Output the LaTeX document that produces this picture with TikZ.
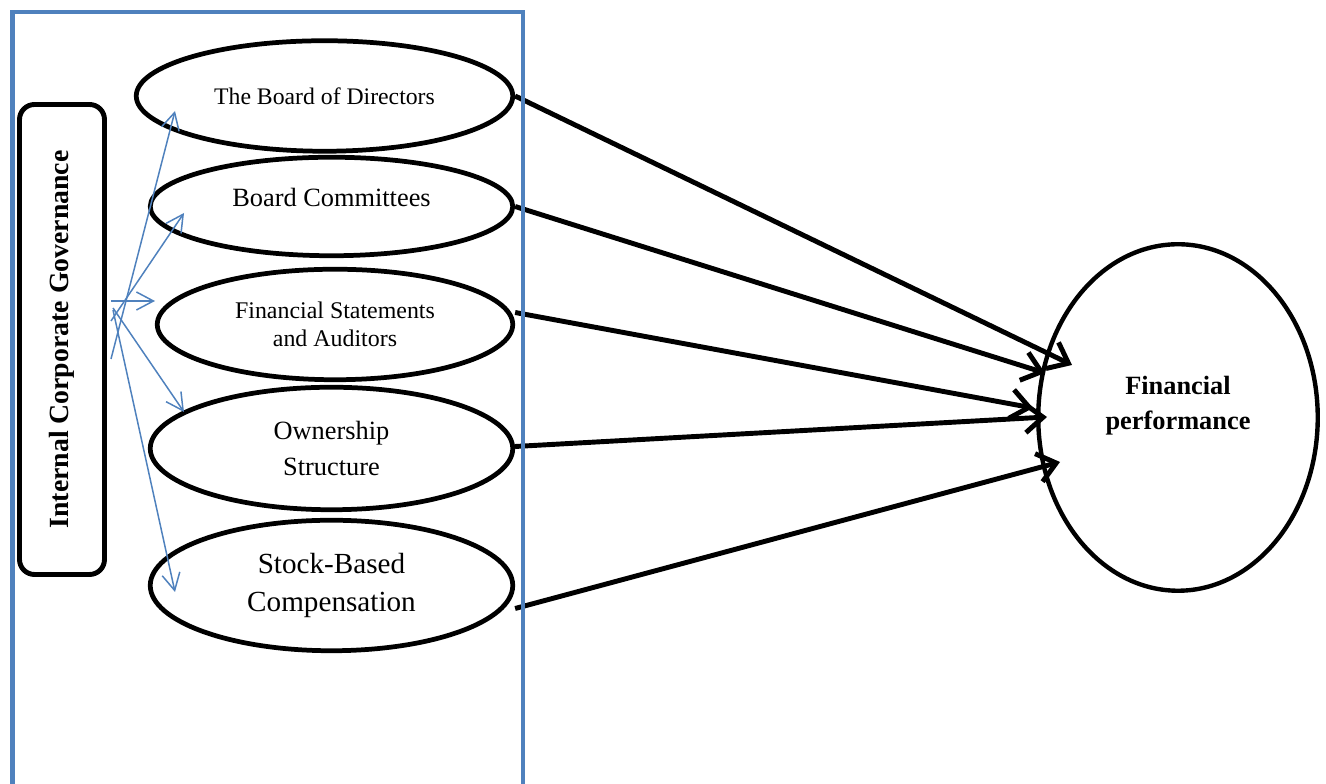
\documentclass[tikz,border=0pt]{standalone}
\usepackage{fontspec}
\setmainfont{Liberation Serif}
\usepackage{tikz}
\usetikzlibrary{shapes.geometric,arrows.meta}
\definecolor{boxblue}{RGB}{79,129,189}

\begin{document}
\begin{tikzpicture}[
        mechanism/.style={ellipse, draw=black, line width=2.7pt, fill=white, inner sep=0pt, align=center, minimum width=7.25cm},
        outcome/.style={ellipse, draw=black, line width=2.5pt, fill=white, minimum width=5.59cm, minimum height=6.93cm},
        outcometext/.style={align=center, inner sep=0pt, font=\fontsize{15}{20}\selectfont\bfseries},
        govbox/.style={rectangle, rounded corners=0.3cm, draw=black, line width=2.8pt, minimum width=9.40cm, minimum height=1.70cm, rotate=90, font=\fontsize{15.8}{18}\selectfont\bfseries},
        fanarrow/.style={boxblue, line width=0.85pt, -{Straight Barb[length=3.4mm,width=3.6mm]}},
        effect/.style={black, line width=2.8pt, -{Straight Barb[length=3.6mm,width=5.8mm]}}
    ]
        \useasboundingbox (0,0) rectangle (26.52,15.68);
        % Governance mechanisms
        \node[govbox] (gov) at (1.24,8.89) {Internal Corporate Governance};
        \node[mechanism, minimum width=7.53cm, minimum height=2.21cm, font=\fontsize{13.5}{16}\selectfont] (b1) at (6.49,13.76) {The Board of Directors};
        \node[mechanism, minimum height=1.97cm, font=\fontsize{15}{18}\selectfont] (b2) at (6.63,11.55) {\raisebox{0pt}[0pt][0pt]{Board Committees}};
        \node[mechanism, minimum width=7.11cm, minimum height=2.21cm, font=\fontsize{13.6}{16}\selectfont] (b3) at (6.70,9.19) {Financial Statements\\and Auditors};
        \node[mechanism, minimum height=2.45cm, font=\fontsize{15}{20}\selectfont] (b4) at (6.63,6.71) {Ownership\\Structure};
        \node[mechanism, minimum height=2.61cm, font=\fontsize{16.6}{22}\selectfont] (b5) at (6.63,3.97) {Stock-Based\\Compensation};
        \node[outcome] (perf) at (23.56,7.33) {};
        \node[outcometext] (perftext) at ([yshift=0.24cm]perf.center) {Financial\\performance};
        % Fan out of the governance box
        \foreach \n/\sx/\sy/\ex/\ey in {1/2.22/8.50/3.50/13.46, 2/2.22/9.26/3.68/11.42, 3/2.22/9.66/3.10/9.66, 4/2.26/9.52/3.68/7.44, 5/2.26/9.48/3.50/3.84} {
            \coordinate (src\n) at (\sx,\sy);
            \coordinate (end\n) at (\ex,\ey);
            \draw[fanarrow] (src\n) -- (end\n);
        }
        % Effects on performance
        \foreach \n/\from/\dy/\tx/\ty in {1/b1/0/21.44/8.38, 2/b2/0/20.90/8.22, 3/b3/0.24/20.66/7.52, 4/b4/0.04/20.94/7.34, 5/b5/-0.46/21.20/6.44} {
            \coordinate (hit\n) at (\tx,\ty);
            \draw[effect] ([yshift=\dy cm]\from.east) -- (hit\n);
        }
        \draw[boxblue, line width=2.3pt] (0.25,0) |- (10.46,15.44) -- (10.46,0);
    \end{tikzpicture}
\end{document}
